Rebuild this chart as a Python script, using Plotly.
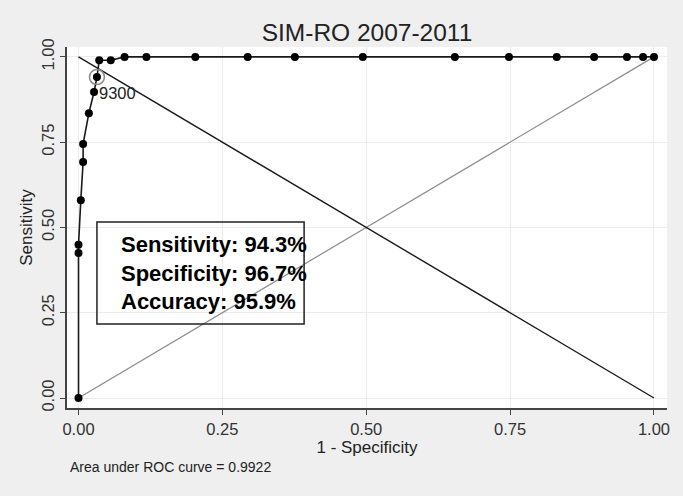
import plotly.graph_objects as go

# ROC curve points (1 - specificity, sensitivity)
fpr = [0.0, 0.0, 0.0, 0.004, 0.008, 0.008, 0.018, 0.027, 0.032, 0.036, 0.056, 0.080,
       0.118, 0.203, 0.294, 0.376, 0.494, 0.654, 0.748, 0.831, 0.896, 0.953, 0.981, 1.0]
tpr = [0.0, 0.425, 0.449, 0.58, 0.692, 0.745, 0.835, 0.897, 0.941, 0.990, 0.990, 1.0,
       1.0, 1.0, 1.0, 1.0, 1.0, 1.0, 1.0, 1.0, 1.0, 1.0, 1.0, 1.0]

cut_label = "9300"
cut_x = [0.032]
cut_y = [0.941]

ref_x = [0, 1]
ref_y = [0, 1]
anti_x = [0, 1]
anti_y = [1, 0]

tick_vals = [0, 0.25, 0.5, 0.75, 1.0]
tick_text = ["0.00", "0.25", "0.50", "0.75", "1.00"]

stats_lines = ["Sensitivity: 94.3%", "Specificity: 96.7%", "Accuracy: 95.9%"]
title_text = "SIM-RO 2007-2011"
note_text = "Area under ROC curve = 0.9922"

FONT = "Liberation Sans, Arial, sans-serif"

fig = go.Figure()
fig.add_trace(go.Scatter(x=ref_x, y=ref_y, mode="lines",
                         line=dict(color="#8c8c8c", width=1.2), hoverinfo="skip"))
fig.add_trace(go.Scatter(x=anti_x, y=anti_y, mode="lines",
                         line=dict(color="#1a1a1a", width=1.4), hoverinfo="skip"))
fig.add_trace(go.Scatter(x=fpr, y=tpr, mode="lines+markers",
                         line=dict(color="#1a1a1a", width=1.6),
                         marker=dict(color="#000000", size=8)))
fig.add_trace(go.Scatter(x=cut_x, y=cut_y, mode="markers",
                         marker=dict(symbol="circle-open", size=15, color="#8c8c8c",
                                     line=dict(color="#8c8c8c", width=1.6))))

fig.add_annotation(x=cut_x[0], y=cut_y[0], text=cut_label, showarrow=False,
                   xanchor="left", yanchor="top", xshift=0, yshift=-5,
                   font=dict(family=FONT, size=16.5, color="#222222"))

# stats box
fig.add_shape(type="rect", xref="x", yref="y", x0=0.032, x1=0.392, y0=0.217, y1=0.516,
              line=dict(color="#222222", width=1.5), fillcolor="rgba(0,0,0,0)")
fig.add_annotation(x=0.070, y=0.3665, xref="x", yref="y",
                   text="<br>".join("<b>%s</b>" % s for s in stats_lines),
                   showarrow=False, xanchor="left", yanchor="middle", align="left",
                   font=dict(family=FONT, size=22, color="#000000"))

fig.add_annotation(x=0.002, y=-0.163, xref="paper", yref="paper", text=note_text,
                   showarrow=False, xanchor="left", yanchor="middle",
                   font=dict(family=FONT, size=14, color="#222222"))

axis_common = dict(
    tickvals=tick_vals, ticktext=tick_text, showgrid=True, gridcolor="#ececec",
    gridwidth=1, zeroline=False, showline=True, linecolor="#444444", linewidth=1.5,
    ticks="outside", ticklen=5, tickwidth=1.3, tickcolor="#444444",
    tickfont=dict(family=FONT, size=16.5, color="#333333"), mirror=False,
)

fig.update_layout(
    width=683, height=496,
    margin=dict(l=67, r=16, t=47, b=88),
    paper_bgcolor="#efefef", plot_bgcolor="#ffffff",
    showlegend=False,
    title=dict(text=title_text, x=0.5, xanchor="center", xref="paper",
               y=1 - 32 / 496, yanchor="middle",
               font=dict(family=FONT, size=24.5, color="#222222")),
    xaxis=dict(range=[-0.020, 1.0226],
               title=dict(text="1 - Specificity", standoff=2,
                          font=dict(family=FONT, size=17, color="#222222")),
               **axis_common),
    yaxis=dict(range=[-0.0293, 1.029], tickangle=-90,
               title=dict(text="Sensitivity", standoff=2,
                          font=dict(family=FONT, size=17, color="#222222")),
               **axis_common),
)

fig.write_html("out.html", config={"displayModeBar": False},
               post_script="document.body.style.margin='0px';document.body.style.background='#efefef';")
